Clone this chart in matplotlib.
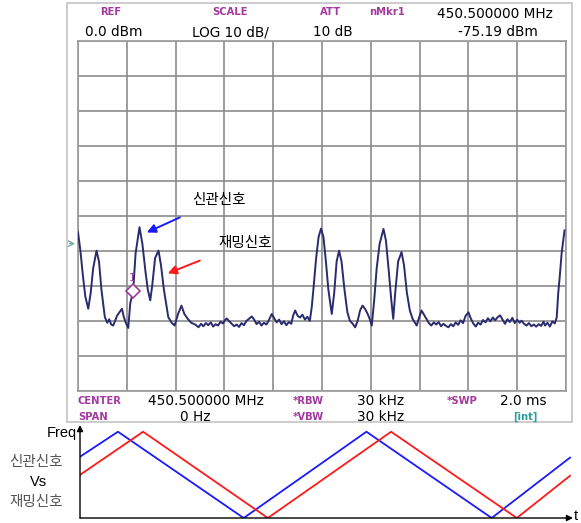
import numpy as np
import matplotlib
matplotlib.use("Agg")
import matplotlib.pyplot as plt
from matplotlib.patches import Rectangle

plt.rcParams['font.family'] = ['DejaVu Sans', 'Noto Sans CJK KR']

# --- trace data (sweep position in divisions, level in dBm) ---
sweep_ms = 2.0
trace_div = [
    0.00, 0.05, 0.10, 0.15, 0.21, 0.26, 0.31, 0.38, 0.43, 0.48, 0.55, 0.60, 0.64, 0.68,
    0.72, 0.76, 0.80, 0.85, 0.90, 0.94, 0.98, 1.03, 1.07, 1.13, 1.18, 1.26, 1.32, 1.38,
    1.43, 1.48, 1.52, 1.58, 1.65, 1.70, 1.76, 1.85, 1.92, 1.98, 2.05, 2.12, 2.18, 2.25,
    2.32, 2.40, 2.47, 2.52, 2.57, 2.62, 2.67, 2.72, 2.77, 2.82, 2.87, 2.92, 2.97, 3.02,
    3.05, 3.10, 3.15, 3.20, 3.25, 3.30, 3.35, 3.40, 3.45, 3.50, 3.56, 3.61, 3.66, 3.71,
    3.76, 3.81, 3.86, 3.91, 3.97, 4.02, 4.07, 4.12, 4.17, 4.22, 4.27, 4.32, 4.37, 4.41,
    4.45, 4.50, 4.55, 4.60, 4.65, 4.70, 4.75, 4.79, 4.83, 4.88, 4.93, 4.98, 5.03, 5.08,
    5.13, 5.20, 5.25, 5.30, 5.35, 5.40, 5.46, 5.52, 5.57, 5.63, 5.68, 5.73, 5.78, 5.83,
    5.88, 5.93, 5.98, 6.02, 6.07, 6.12, 6.18, 6.26, 6.31, 6.37, 6.42, 6.46, 6.50, 6.56,
    6.63, 6.68, 6.74, 6.80, 6.86, 6.94, 6.99, 7.04, 7.09, 7.14, 7.19, 7.24, 7.29, 7.34,
    7.39, 7.44, 7.49, 7.54, 7.59, 7.64, 7.69, 7.74, 7.79, 7.84, 7.89, 7.94, 8.00, 8.05,
    8.10, 8.15, 8.20, 8.25, 8.30, 8.35, 8.40, 8.45, 8.50, 8.55, 8.60, 8.65, 8.70, 8.75,
    8.80, 8.85, 8.90, 8.95, 9.00, 9.05, 9.09, 9.14, 9.19, 9.24, 9.29, 9.34, 9.39, 9.44,
    9.49, 9.54, 9.57, 9.62, 9.67, 9.72, 9.77, 9.81, 9.84, 9.88, 9.91, 9.97,
]
trace_dbm = [
    -54.6, -60.0, -67.0, -73.0, -76.5, -72.0, -65.0, -59.9, -63.0, -71.0, -78.9, -80.5, -79.5, -81.0,
    -81.3, -80.0, -78.5, -77.5, -76.5, -78.9, -80.5, -82.0, -75.0, -71.5, -60.7, -53.2, -58.0, -65.6,
    -71.0, -74.1, -70.0, -62.0, -59.9, -64.0, -71.0, -78.9, -80.5, -81.3, -78.0, -75.6, -78.0, -79.4,
    -80.5, -81.0, -81.8, -80.8, -81.5, -80.6, -81.2, -80.4, -81.6, -80.9, -81.3, -80.2, -80.7, -79.6,
    -79.3, -80.1, -80.8, -81.5, -81.0, -81.7, -80.6, -81.2, -80.0, -79.4, -78.7, -79.6, -80.9, -80.2,
    -81.3, -80.5, -81.0, -79.8, -78.0, -79.2, -80.4, -79.6, -80.9, -80.1, -81.2, -80.3, -80.8, -78.4,
    -77.0, -78.5, -79.0, -78.2, -79.6, -78.8, -80.0, -76.0, -70.0, -62.0, -56.0, -53.6, -56.0, -63.0,
    -71.0, -78.0, -72.0, -63.0, -59.9, -63.0, -71.0, -77.5, -79.9, -80.8, -81.8, -80.0, -77.0, -75.6,
    -76.5, -77.8, -79.5, -81.3, -74.0, -65.0, -58.0, -53.7, -57.0, -66.0, -74.0, -79.4, -72.0, -63.0,
    -60.3, -64.0, -72.0, -77.0, -79.5, -81.3, -79.0, -77.0, -78.2, -79.4, -80.6, -81.3, -80.4, -81.0,
    -80.3, -81.5, -80.8, -81.4, -81.8, -80.9, -81.5, -80.4, -81.1, -79.8, -80.6, -78.6, -77.5, -79.3,
    -80.7, -81.6, -80.5, -81.0, -79.7, -80.4, -79.2, -80.1, -79.0, -79.8, -78.9, -78.4, -79.6, -80.8,
    -79.5, -80.3, -79.1, -80.6, -79.6, -80.5, -79.9, -80.8, -81.3, -80.6, -81.5, -81.0, -81.6, -80.9,
    -81.4, -80.2, -81.3, -80.5, -81.6, -80.1, -80.7, -79.0, -72.2, -66.0, -60.7, -54.1,
]
marker_div, marker_dbm = 1.13, -71.5

# --- sweep diagram data (time 0..100, freq 0..1) ---
blue_t = [0.0, 7.7, 33.2, 58.1, 83.5, 99.4]
blue_f = [0.71, 1.0, 0.0, 1.0, 0.0, 0.70]
red_t = [0.0, 12.8, 38.1, 63.1, 88.6, 99.4]
red_f = [0.50, 1.0, 0.0, 1.0, 0.0, 0.49]

W, H = 581, 523
fig = plt.figure(figsize=(W / 100, H / 100), dpi=100)


def fx(px):
    return px / W


def fy(py):
    return 1 - py / H


# outer screen frame
fig.patches.append(Rectangle((fx(67), fy(422)), fx(572) - fx(67), fy(3) - fy(422),
                             transform=fig.transFigure, fill=False, ec='#c4c4c4', lw=1.2))

# --- analyzer screen ---
gx0, gx1, gy0, gy1 = 78, 566, 41, 391
ax = fig.add_axes([fx(gx0), fy(gy1), fx(gx1) - fx(gx0), fy(gy0) - fy(gy1)])
t_ms = np.array(trace_div) * sweep_ms / 10
ax.plot(t_ms, trace_dbm, color='#2a2a6e', lw=1.4, zorder=3)
ax.set_xlim(0, sweep_ms)
ax.set_ylim(-100, 0)
ax.set_xticks(np.linspace(0, sweep_ms, 11))
ax.set_yticks(np.arange(-100, 1, 10))
ax.grid(True, color='#8c8c8c', lw=1.2)
ax.tick_params(length=0, labelbottom=False, labelleft=False)
for s in ax.spines.values():
    s.set_color('#9a9a9a')
    s.set_linewidth(1.2)

# marker 1
mk_t = marker_div * sweep_ms / 10
ax.plot([mk_t], [marker_dbm], marker='D', ms=7, mfc='white', mec='#9b3c9b', mew=1.2, zorder=4)
ax.text(mk_t - 0.004, marker_dbm + 2.3, '1', color='#9b3c9b', fontsize=7.5, ha='center',
        va='bottom', zorder=5)

# reference arrow on the left
ax.annotate('', xy=(0.0, -57.9), xytext=(-0.045, -57.9), annotation_clip=False,
            arrowprops=dict(arrowstyle='->', color='#6fb0a8', lw=1.0))

# signal labels
ax.annotate('신관신호', xy=(0.282, -54.7), xytext=(0.578, -45.3),
            fontsize=10.5, family=['Noto Sans CJK KR'], ha='center', va='center',
            arrowprops=dict(arrowstyle='-|>', color='#1a1aff', lw=1.4, mutation_scale=13,
                            shrinkA=14, shrinkB=0))
ax.annotate('재밍신호', xy=(0.368, -66.4), xytext=(0.684, -57.6),
            fontsize=10.5, family=['Noto Sans CJK KR'], ha='center', va='center',
            arrowprops=dict(arrowstyle='-|>', color='#ff1a1a', lw=1.4, mutation_scale=13,
                            shrinkA=16, shrinkB=0))

purple = '#a33aa0'
teal = '#2aa198'
lbl = dict(color=purple, fontsize=7.2, fontweight='bold', va='center', ha='left')
val = dict(color='black', fontsize=9.8, va='center', ha='left')

# header rows
fig.text(fx(100), fy(12), 'REF', **lbl)
fig.text(fx(212), fy(12), 'SCALE', **lbl)
fig.text(fx(320), fy(12), 'ATT', **lbl)
fig.text(fx(369), fy(12), 'nMkr1', **lbl)
fig.text(fx(437), fy(14), '450.500000 MHz', **val)
fig.text(fx(85), fy(32), '0.0 dBm', **val)
fig.text(fx(192), fy(32), 'LOG 10 dB/', **val)
fig.text(fx(313), fy(32), '10 dB', **val)
fig.text(fx(458), fy(32), '-75.19 dBm', **val)

# footer rows
fig.text(fx(78), fy(401), 'CENTER', **lbl)
fig.text(fx(148), fy(401), '450.500000 MHz', **val)
fig.text(fx(293), fy(401), '*RBW', **lbl)
fig.text(fx(357), fy(401), '30 kHz', **val)
fig.text(fx(447), fy(401), '*SWP', **lbl)
fig.text(fx(500), fy(401), '2.0 ms', **val)
fig.text(fx(78), fy(417), 'SPAN', **lbl)
fig.text(fx(180), fy(417), '0 Hz', **val)
fig.text(fx(293), fy(417), '*VBW', **lbl)
fig.text(fx(357), fy(417), '30 kHz', **val)
fig.text(fx(513), fy(417), '[int]', color=teal, fontsize=7.2, fontweight='bold', va='center', ha='left')

# --- sweep diagram ---
bx0, bx1, by0, by1 = 80, 573, 425, 518
ax2 = fig.add_axes([fx(bx0), fy(by1), fx(bx1) - fx(bx0), fy(by0) - fy(by1)])
ax2.plot(blue_t, blue_f, color='#1a1aff', lw=1.3)
ax2.plot(red_t, red_f, color='#ff1a1a', lw=1.3)
ax2.set_xlim(0, 100)
ax2.set_ylim(0, 1.078)
ax2.axis('off')
ax2.annotate('', xy=(100, 0), xytext=(0, 0), annotation_clip=False,
             arrowprops=dict(arrowstyle='-|>', color='black', lw=1.0, mutation_scale=9,
                             shrinkA=0, shrinkB=0))
ax2.annotate('', xy=(0, 1.078), xytext=(0, 0), annotation_clip=False,
             arrowprops=dict(arrowstyle='-|>', color='black', lw=1.0, mutation_scale=9,
                             shrinkA=0, shrinkB=0))
fig.text(fx(77), fy(433), 'Freq', fontsize=10.5, ha='right', va='center', family=['Liberation Sans'])
fig.text(fx(576), fy(516), 't', fontsize=10.5, ha='center', va='center', family=['Liberation Sans'])

grey = '#555555'
fig.text(fx(36), fy(462), '신관신호', fontsize=10.5, ha='center', va='center', color=grey,
         family=['Noto Sans CJK KR'])
fig.text(fx(38), fy(482), 'Vs', fontsize=10.5, ha='center', va='center', color='black',
         family=['Liberation Sans'])
fig.text(fx(36), fy(502), '재밍신호', fontsize=10.5, ha='center', va='center', color=grey,
         family=['Noto Sans CJK KR'])

fig.savefig('out.png', dpi=100)
